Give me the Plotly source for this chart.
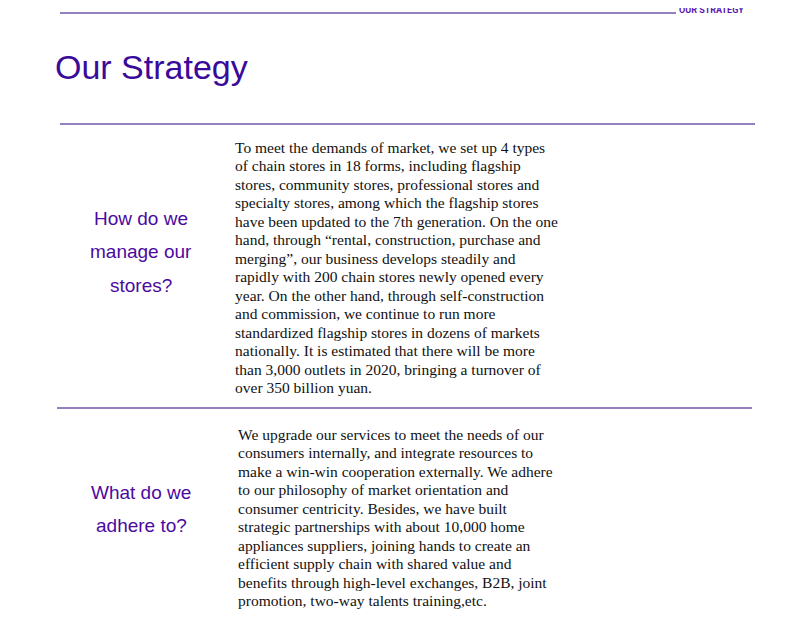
import plotly.graph_objects as go

# Page text
header = "OUR STRATEGY"
title = "Our Strategy"
questions = [["How do we", "manage our", "stores?"], ["What do we", "adhere to?"]]
answer1 = [
    "To meet the demands of market, we set up 4 types",
    "of chain stores in 18 forms, including flagship",
    "stores, community stores, professional stores and",
    "specialty stores, among which the flagship stores",
    "have been updated to the 7th generation. On the one",
    "hand, through \u201crental, construction, purchase and",
    "merging\u201d, our business develops steadily and",
    "rapidly with 200 chain stores newly opened every",
    "year. On the other hand, through self-construction",
    "and commission, we continue to run more",
    "standardized flagship stores in dozens of markets",
    "nationally. It is estimated that there will be more",
    "than 3,000 outlets in 2020, bringing a turnover of",
    "over 350 billion yuan.",
]
answer2 = [
    "We upgrade our services to meet the needs of our",
    "consumers internally, and integrate resources to",
    "make a win-win cooperation externally. We adhere",
    "to our philosophy of market orientation and",
    "consumer centricity. Besides, we have built",
    "strategic partnerships with about 10,000 home",
    "appliances suppliers, joining hands to create an",
    "efficient supply chain with shared value and",
    "benefits through high-level exchanges, B2B, joint",
    "promotion, two-way talents training,etc.",
]

purple = "#2a0080"
label_col = "#4b0aa0"
serif = dict(family="Liberation Serif", size=15.5, color="#111")

fig = go.Figure()
# the page body has an 8px margin, so shift the coordinate frame
fig.update_xaxes(range=[8, 799], visible=False)
fig.update_yaxes(range=[628, 8], visible=False)

# rules
for x0, x1, y in [(60, 676, 13), (60, 755, 124), (57, 752, 408)]:
    fig.add_shape(type="line", x0=x0, x1=x1, y0=y, y1=y, line=dict(color=purple, width=1))

fig.add_annotation(x=677, y=10, text="<b>" + header + "</b>", xanchor="left", showarrow=False,
                   font=dict(family="Roboto", size=9, color="#5a1ab0"))
fig.add_annotation(x=53, y=67, text=title, xanchor="left", showarrow=False,
                   font=dict(family="Liberation Sans", size=34, color="#3a0a9a"))

for qs, y0 in zip(questions, [218, 492]):
    for i, q in enumerate(qs):
        fig.add_annotation(x=141, y=y0 + i * 33.5, text=q, showarrow=False,
                           font=dict(family="Liberation Sans", size=19, color=label_col))

for lines, x0, y0 in [(answer1, 233, 147), (answer2, 236, 434)]:
    for i, t in enumerate(lines):
        fig.add_annotation(x=x0, y=y0 + i * 18.5, text=t, xanchor="left", showarrow=False, font=serif)

fig.update_layout(width=791, height=620, margin=dict(l=0, r=0, t=0, b=0),
                  plot_bgcolor="white", paper_bgcolor="white", showlegend=False)
fig.write_html("out.html")
